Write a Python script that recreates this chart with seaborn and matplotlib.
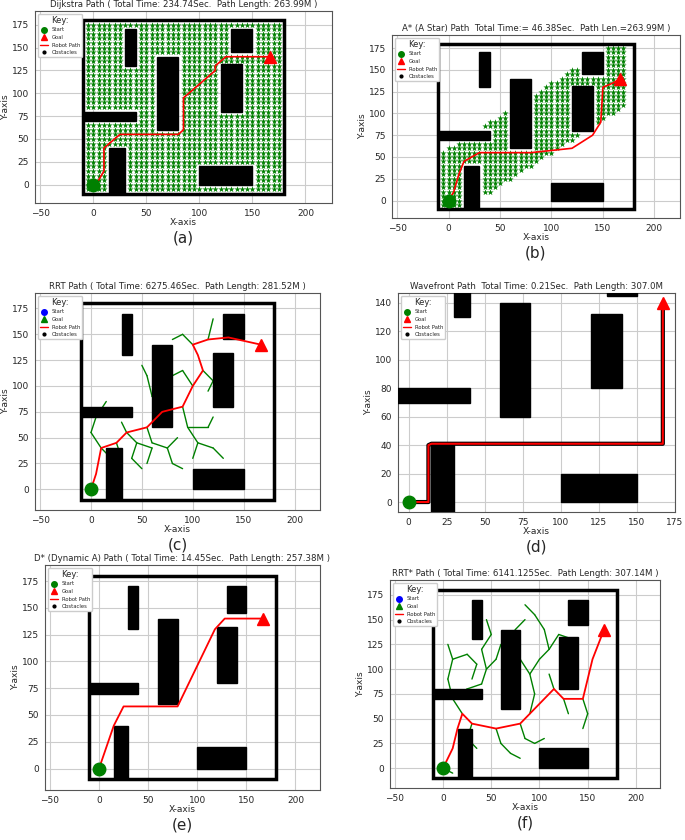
import numpy as np
import matplotlib
matplotlib.use('Agg')
import matplotlib.pyplot as plt
import seaborn as sns
from matplotlib.patches import Rectangle

sns.set_style('whitegrid')
plt.rcParams['font.family'] = ['DejaVu Sans']

# obstacles: x0, y0, width, height
obs_x = [30, 60, 130, 120, -10, 15, 100]
obs_y = [130, 60, 145, 80, 70, -10, 0]
obs_w = [10, 20, 20, 20, 50, 15, 50]
obs_h = [40, 80, 25, 52, 10, 50, 20]
wall = [-10, -10, 190, 190]
start = (0, 0)
goal = (167, 140)

titles = [
    "Dijkstra Path ( Total Time: 234.74Sec.  Path Length: 263.99M )",
    "A* (A Star) Path  Total Time:= 46.38Sec.  Path Len.=263.99M )",
    "RRT Path ( Total Time: 6275.46Sec.  Path Length: 281.52M )",
    "Wavefront Path  Total Time: 0.21Sec.  Path Length: 307.0M",
    "D* (Dynamic A) Path ( Total Time: 14.45Sec.  Path Length: 257.38M )",
    "RRT* Path ( Total Time: 6141.125Sec.  Path Length: 307.14M )",
]
letters = ['(a)', '(b)', '(c)', '(d)', '(e)', '(f)']

dij_x = [0, 5, 10, 10, 25, 80, 85, 85, 115, 115, 125, 167]
dij_y = [0, 5, 15, 40, 55, 55, 60, 95, 125, 130, 140, 140]
ast_x = [0, 5, 10, 15, 30, 80, 120, 140, 148, 150, 160, 167]
ast_y = [0, 10, 30, 45, 55, 55, 60, 75, 90, 130, 135, 140]
rrt_x = [0, 5, 10, 25, 35, 55, 70, 90, 100, 110, 105, 100, 115, 135, 167]
rrt_y = [0, 15, 40, 45, 55, 60, 75, 80, 100, 115, 130, 140, 145, 147, 140]
wav_x = [0, 13, 13, 15, 167, 167]
wav_y = [0, 0, 40, 41, 41, 140]
dst_x = [0, 15, 25, 80, 118, 128, 167]
dst_y = [0, 40, 58, 58, 130, 140, 140]
rrs_x = [0, 10, 15, 20, 30, 55, 80, 90, 100, 105, 115, 125, 145, 155, 167]
rrs_y = [0, 20, 40, 55, 45, 40, 45, 55, 65, 70, 80, 70, 70, 110, 140]

# tree branches (x0, y0, x1, y1)
rrt_tree = [
    (10, 40, 0, 55), (0, 55, 5, 70), (10, 40, 20, 30), (20, 30, 30, 20), (25, 45, 30, 30),
    (35, 55, 45, 45), (45, 45, 40, 30), (40, 30, 50, 20), (45, 45, 60, 40), (60, 40, 55, 25),
    (55, 60, 60, 45), (60, 45, 75, 40), (75, 40, 80, 25), (70, 75, 60, 90), (60, 90, 55, 110),
    (55, 110, 50, 120), (90, 80, 95, 60), (95, 60, 105, 45), (105, 45, 100, 30), (105, 45, 120, 40),
    (120, 40, 130, 30), (95, 60, 115, 60), (115, 60, 120, 70), (100, 100, 90, 115), (90, 115, 80, 110),
    (110, 115, 120, 105), (100, 140, 90, 150), (90, 150, 80, 145), (115, 145, 120, 165),
    (5, 70, 15, 85), (35, 55, 30, 65), (80, 25, 90, 20), (75, 40, 85, 50), (120, 105, 115, 95),
]
rrs_tree = [
    (20, 55, 10, 70), (10, 70, 5, 90), (5, 90, 10, 110), (10, 110, 5, 125), (10, 110, 25, 115),
    (25, 115, 35, 105), (10, 70, 25, 80), (25, 80, 40, 85), (40, 85, 45, 100), (45, 100, 40, 120),
    (40, 120, 50, 135), (50, 135, 45, 150), (45, 100, 55, 110), (55, 110, 60, 125), (55, 40, 60, 25),
    (60, 25, 70, 15), (70, 15, 80, 10), (80, 45, 85, 30), (85, 30, 95, 25), (95, 25, 105, 30),
    (90, 55, 95, 75), (95, 75, 90, 95), (90, 95, 80, 110), (80, 110, 70, 125), (70, 125, 75, 140),
    (90, 95, 100, 110), (100, 110, 110, 120), (110, 120, 105, 140), (105, 140, 95, 155),
    (95, 155, 85, 165), (110, 120, 120, 135), (120, 135, 135, 130), (115, 80, 110, 95),
    (145, 70, 150, 55), (150, 55, 145, 40), (30, 45, 25, 30), (25, 30, 35, 20), (0, 0, 10, -5),
    (125, 70, 130, 55), (75, 140, 85, 150), (35, 105, 30, 90),
]


def in_obstacle(px, py, pad=2):
    for x0, y0, w, h in zip(obs_x, obs_y, obs_w, obs_h):
        if x0 - pad <= px <= x0 + w + pad and y0 - pad <= py <= y0 + h + pad:
            return True
    return False


def explored(band=None):
    xs, ys = [], []
    for gx in range(-5, 180, 5):
        for gy in range(-5, 180, 5):
            if in_obstacle(gx, gy):
                continue
            if band is not None:
                lo, hi = band
                if not (gx * 0.75 + lo <= gy <= gx * 0.75 + hi):
                    continue
                if gy > 175 or gx > 170:
                    continue
            xs.append(gx)
            ys.append(gy)
    return xs, ys


def draw_map(ax, walls=True):
    for x0, y0, w, h in zip(obs_x, obs_y, obs_w, obs_h):
        ax.add_patch(Rectangle((x0, y0), w, h, color='black', zorder=3))
    if walls:
        ax.add_patch(Rectangle((wall[0], wall[1]), wall[2], wall[3], fill=False,
                               edgecolor='black', lw=2.5, zorder=3))


def finish(ax, title, letter, start_c='green', goal_c='red', zoomed=False):
    ax.plot(*start, 'o', color='green', ms=9, zorder=6)
    ax.plot(*goal, '^', color='red', ms=9, zorder=6)
    h = [
        plt.Line2D([], [], marker='o', ls='', color=start_c, ms=4, label='Start'),
        plt.Line2D([], [], marker='^', ls='', color=goal_c, ms=4, label='Goal'),
        plt.Line2D([], [], color='red', lw=1, label='Robot Path'),
        plt.Line2D([], [], marker='o', ls='', color='black', ms=2, label='Obstacles'),
    ]
    ax.legend(handles=h, title='Key:', loc='upper left', fontsize=3.8, title_fontsize=6,
              frameon=True, framealpha=1, borderpad=0.4, handlelength=1.5)
    ax.set_title(title, fontsize=6.2, pad=3)
    ax.set_xlabel('X-axis', fontsize=6.5, labelpad=0)
    ax.set_ylabel('Y-axis', fontsize=6.5, labelpad=1)
    ax.tick_params(labelsize=6.5, pad=1)
    if zoomed:
        ax.set_xlim(-7, 175)
        ax.set_ylim(-7, 147)
    else:
        ax.set_xlim(-55, 225)
        ax.set_ylim(-20, 190)
        ax.set_xticks([-50, 0, 50, 100, 150, 200])
        ax.set_yticks([0, 25, 50, 75, 100, 125, 150, 175])
    for s in ax.spines.values():
        s.set_edgecolor('#555555')
        s.set_linewidth(0.8)
    ax.annotate(letter, xy=(0.5, 0), xycoords='axes fraction', xytext=(0, -20),
                textcoords='offset points', ha='center', va='top', fontsize=11)


fig = plt.figure(figsize=(6.85, 8.4), dpi=100)
W, H = 685, 840
boxes = [(35, 11, 332, 203), (392, 35, 680, 218), (35, 293, 320, 510),
         (398, 293, 675, 512), (45, 565, 320, 790), (390, 580, 660, 788)]
axs = [fig.add_axes([l / W, 1 - b / H, (r - l) / W, (b - t) / H]) for l, t, r, b in boxes]

# (a) Dijkstra
ax = axs[0]
ex, ey = explored()
sns.scatterplot(x=ex, y=ey, marker='*', s=22, color='green', edgecolor='green', linewidth=0, ax=ax, zorder=2)
draw_map(ax)
ax.plot(dij_x, dij_y, color='red', lw=1.2, zorder=5)
finish(ax, titles[0], letters[0])

# (b) A*
ax = axs[1]
ex, ey = explored(band=(-20, 60))
sns.scatterplot(x=ex, y=ey, marker='*', s=22, color='green', edgecolor='green', linewidth=0, ax=ax, zorder=2)
draw_map(ax)
ax.plot(ast_x, ast_y, color='red', lw=1.2, zorder=5)
finish(ax, titles[1], letters[1])

# (c) RRT
ax = axs[2]
for x0, y0, x1, y1 in rrt_tree:
    ax.plot([x0, x1], [y0, y1], color='green', lw=1, zorder=2)
draw_map(ax)
ax.plot(rrt_x, rrt_y, color='red', lw=1.3, zorder=5)
finish(ax, titles[2], letters[2], start_c='blue', goal_c='green')

# (d) Wavefront
ax = axs[3]
draw_map(ax, walls=False)
ax.plot(wav_x, wav_y, color='black', lw=3, zorder=4)
ax.plot(wav_x, wav_y, color='red', lw=1.5, zorder=5)
finish(ax, titles[3], letters[3], zoomed=True)

# (e) D*
ax = axs[4]
draw_map(ax)
ax.plot(dst_x, dst_y, color='red', lw=1.3, zorder=5)
finish(ax, titles[4], letters[4])

# (f) RRT*
ax = axs[5]
for x0, y0, x1, y1 in rrs_tree:
    ax.plot([x0, x1], [y0, y1], color='green', lw=1, zorder=2)
draw_map(ax)
ax.plot(rrs_x, rrs_y, color='red', lw=1.3, zorder=5)
finish(ax, titles[5], letters[5], start_c='blue', goal_c='green')

fig.savefig('out.png', dpi=100)
